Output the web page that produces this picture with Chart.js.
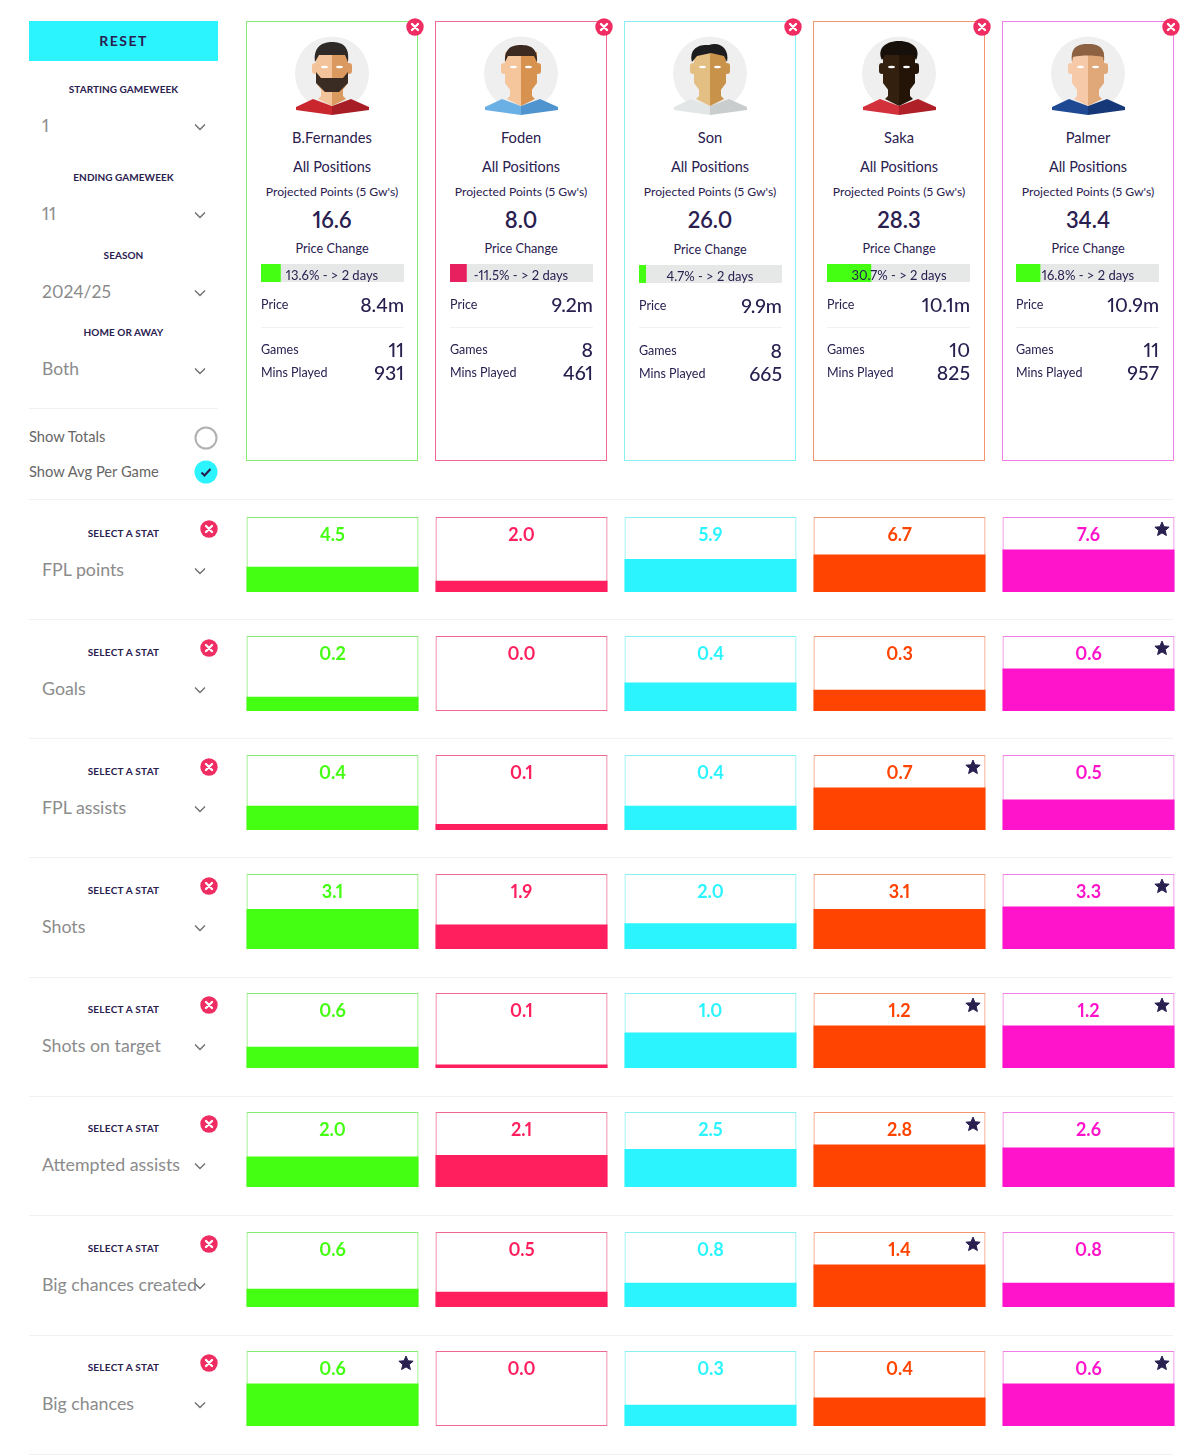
<!DOCTYPE html>
<html>
<head>
<meta charset="utf-8">
<title>Comparação de jogadores</title>
<script src="https://cdn.jsdelivr.net/npm/chart.js@4"></script>
<style>
    html, body { margin: 0; padding: 0; background: #fff; }
    body { position: relative; width: 1200px; height: 1456px; overflow: hidden; font-family: Lato, sans-serif; color: #2a2050; font-variant-numeric: proportional-nums; }
    .abs { position: absolute; white-space: nowrap; line-height: 1; }
    canvas { position: absolute; }
    svg { position: absolute; overflow: visible; }
</style>
</head>
<body>
<script>
// Dados dos jogadores
const jogadores = ['B.Fernandes', 'Foden', 'Son', 'Saka', 'Palmer'];
const pontosProjetados = ['16.6', '8.0', '26.0', '28.3', '34.4'];
const variacaoPreco = [13.6, -11.5, 4.7, 30.7, 16.8];
const precos = ['8.4m', '9.2m', '9.9m', '10.1m', '10.9m'];
const jogos = [11, 8, 8, 10, 11];
const minutos = [931, 461, 665, 825, 957];

// Estatísticas por jogo
const nomesEstatisticas = ['FPL points', 'Goals', 'FPL assists', 'Shots', 'Shots on target', 'Attempted assists', 'Big chances created', 'Big chances'];
const fplPoints = [4.5, 2.0, 5.9, 6.7, 7.6];
const goals = [0.2, 0.0, 0.4, 0.3, 0.6];
const fplAssists = [0.4, 0.1, 0.4, 0.7, 0.5];
const shots = [3.1, 1.9, 2.0, 3.1, 3.3];
const shotsOnTarget = [0.6, 0.1, 1.0, 1.2, 1.2];
const attemptedAssists = [2.0, 2.1, 2.5, 2.8, 2.6];
const bigChancesCreated = [0.6, 0.5, 0.8, 1.4, 0.8];
const bigChances = [0.6, 0.0, 0.3, 0.4, 0.6];
const linhas = [fplPoints, goals, fplAssists, shots, shotsOnTarget, attemptedAssists, bigChancesCreated, bigChances];

// Filtros da barra lateral
const filtros = [['STARTING GAMEWEEK', '1', 89, 125.5], ['ENDING GAMEWEEK', '11', 177, 213.5], ['SEASON', '2024/25', 255, 291.5], ['HOME OR AWAY', 'Both', 332, 369]];

// Cores
const coresBarra = ['#44ff12', '#ff1f5e', '#2bf4ff', '#ff4300', '#ff14cc'];
const coresBorda = ['#86ec72', '#f0688f', '#86f0f5', '#f29670', '#f07fe6'];
const escuro = '#2a2050';
const cinza = '#8b8b8b';

// Posições do layout
const colunaX = [246, 435, 624, 813, 1002];
const linhaY = [517, 636, 755, 874, 993, 1112, 1232, 1351];
const divisoresY = [499, 619, 738, 857, 977, 1096, 1215, 1335, 1454];

Chart.defaults.animation = false;
Chart.defaults.responsive = false;

// Função para escrever um texto; alinhamento: c (centro), l (esquerda), r (direita)
function texto(str, x, y, tamanho, opcoes = {}) {
    const el = document.createElement('div');
    el.className = 'abs';
    el.textContent = str;
    el.style.fontSize = tamanho + 'px';
    el.style.top = y + 'px';
    el.style.color = opcoes.cor || escuro;
    el.style.fontWeight = opcoes.peso || 400;
    if (opcoes.espaco) el.style.letterSpacing = opcoes.espaco + 'px';
    const alinha = opcoes.alinha || 'c';
    if (alinha === 'r') {
        el.style.right = (1200 - x) + 'px';
        el.style.transform = 'translateY(-50%)';
    } else {
        el.style.left = x + 'px';
        el.style.transform = alinha === 'c' ? 'translate(-50%, -50%)' : 'translateY(-50%)';
    }
    document.body.appendChild(el);
}

function caixa(x, y, w, h, css) {
    const el = document.createElement('div');
    el.className = 'abs';
    el.style.cssText += `left:${x}px;top:${y}px;width:${w}px;height:${h}px;box-sizing:border-box;${css}`;
    document.body.appendChild(el);
}

function svg(x, y, w, h, conteudo) {
    const wrap = document.createElement('div');
    wrap.innerHTML = `<svg style="left:${x}px;top:${y}px" width="${w}" height="${h}" viewBox="0 0 ${w} ${h}">${conteudo}</svg>`;
    document.body.appendChild(wrap.firstChild);
}

function seta(x, y) {
    svg(x - 6, y - 4, 12, 8, `<path d="M1 1.5 L6 6.5 L11 1.5" fill="none" stroke="#6f6f6f" stroke-width="1.4"/>`);
}

function botaoFechar(cx, cy) {
    svg(cx - 9, cy - 9, 18, 18, `<circle cx="9" cy="9" r="8.7" fill="#ef2d62"/><path d="M6 6 L12 12 M12 6 L6 12" stroke="#fff" stroke-width="2.4" stroke-linecap="round"/>`);
}

// Avatares simplificados
const avatares = [
    { pele: '#f3c49b', sombra: '#d9995f', cabelo: '#2f2a28', camisa: '#c9262e', camisa2: '#a81e26',
      topo: 'M20 26 C18 10 28 6 37 6 C47 6 55 10 53 26 L50 19 L24 19 Z',
      barba: 'M21 36 L26 42 L48 42 L53 36 L53 47 L44 56 L30 56 L21 47 Z' },
    { pele: '#f5c59c', sombra: '#d8924f', cabelo: '#3c2a20', camisa: '#6ab0e4', camisa2: '#4f94cf',
      topo: 'M21 26 C20 12 28 9 37 9 C46 9 54 12 53 26 L50 20 L24 20 Z' },
    { pele: '#e4bf83', sombra: '#c9924a', cabelo: '#1d1d1f', camisa: '#e3e6e6', camisa2: '#c9cdcd',
      topo: 'M19 26 C16 14 24 8 36 9 C46 5 57 12 54 26 L51 20 L38 17 L24 20 Z' },
    { pele: '#33200f', sombra: '#231407', cabelo: '#17100a', camisa: '#d2303a', camisa2: '#ae1f28',
      topo: 'M20 24 C15 14 22 5 37 5 C52 5 59 14 54 24 L51 19 L23 19 Z' },
    { pele: '#f6c9a8', sombra: '#e0a878', cabelo: '#8c6242', camisa: '#1f4a93', camisa2: '#163878',
      topo: 'M21 26 C19 10 28 8 37 8 C46 8 55 10 53 26 L52 21 C44 19 30 19 22 21 Z' }
];

function desenharAvatar(i, x, y) {
    const a = avatares[i];
    svg(x, y, 75, 82, `
        <circle cx="37" cy="37.5" r="37" fill="#efefef"/>
        <path d="M1 71 L18 63 L37 70 L37 79 L1 74 Z" fill="${a.camisa}"/>
        <path d="M74 71 L56 63 L37 70 L37 79 L74 74 Z" fill="${a.camisa2}"/>
        <path d="M26 40 L37 40 L37 70 L23 63 L26 60 Z" fill="${a.pele}"/>
        <path d="M48 40 L37 40 L37 70 L51 63 L48 60 Z" fill="${a.sombra}"/>
        <rect x="17" y="27" width="6" height="11" rx="3" fill="${a.pele}"/>
        <rect x="51" y="27" width="6" height="11" rx="3" fill="${a.sombra}"/>
        <path d="M21 16 L37 16 L37 59 L30 59 L21 47 Z" fill="${a.pele}"/>
        <path d="M53 16 L37 16 L37 59 L44 59 L53 47 Z" fill="${a.sombra}"/>
        ${a.barba ? `<path d="${a.barba}" fill="#3a2c22"/>` : ''}
        <path d="${a.topo}" fill="${a.cabelo}"/>
        <ellipse cx="29.5" cy="31" rx="3.4" ry="1.2" fill="#fff"/>
        <ellipse cx="44.5" cy="31" rx="3.4" ry="1.2" fill="#fff"/>`);
}

// Plugin: valor em cima de cada célula e estrela no melhor valor
const pluginValores = {
    id: 'valores',
    afterDatasetsDraw(chart) {
        const { ctx, scales } = chart;
        const valores = chart.data.datasets[0].data;
        const maior = Math.max(...valores);
        chart.getDatasetMeta(1).data.forEach((barra, i) => {
            ctx.save();
            ctx.font = '700 18px Lato';
            ctx.fillStyle = coresBarra[i];
            ctx.textAlign = 'center';
            ctx.textBaseline = 'middle';
            ctx.fillText(valores[i].toFixed(1), barra.x, scales.y.top + 18);
            if (valores[i] === maior) {
                desenharEstrela(ctx, barra.x + barra.width / 2 - 12.5, scales.y.top + 12.5, 7.5);
            }
            ctx.restore();
        });
    }
};

function desenharEstrela(ctx, cx, cy, r) {
    ctx.beginPath();
    for (let p = 0; p < 10; p++) {
        const raio = p % 2 === 0 ? r : r * 0.45;
        const ang = -Math.PI / 2 + p * Math.PI / 5;
        ctx.lineTo(cx + raio * Math.cos(ang), cy + raio * Math.sin(ang));
    }
    ctx.closePath();
    ctx.fillStyle = escuro;
    ctx.strokeStyle = escuro;
    ctx.lineWidth = 1;
    ctx.lineJoin = 'round';
    ctx.fill();
    ctx.stroke();
}

// Gráfico de uma linha de estatística
function criarGraficoLinha(valores, y) {
    const canvas = document.createElement('canvas');
    canvas.width = 945;
    canvas.height = 75;
    canvas.style.left = '238px';
    canvas.style.top = y + 'px';
    document.body.appendChild(canvas);
    // a barra mais alta ocupa 42px de 74px
    const topo = Math.max(...valores) * 74 / 42;
    new Chart(canvas, {
        type: 'bar',
        data: {
            labels: jogadores,
            datasets: [
                { data: valores, backgroundColor: coresBarra, grouped: false, categoryPercentage: 1, barPercentage: 172 / 189 },
                { data: valores.map(() => topo), backgroundColor: 'rgba(0,0,0,0)', borderColor: coresBorda, borderWidth: 1, borderSkipped: false, grouped: false, categoryPercentage: 1, barPercentage: 172 / 189 }
            ]
        },
        options: {
            layout: { padding: 0 },
            plugins: { legend: { display: false }, tooltip: { enabled: false } },
            scales: {
                x: { display: false },
                y: { display: false, min: 0, max: topo }
            }
        },
        plugins: [pluginValores]
    });
}

// Barra de variação de preço de cada cartão
function criarGraficoPreco(valor, x, y) {
    const canvas = document.createElement('canvas');
    canvas.width = 143;
    canvas.height = 18;
    canvas.style.left = x + 'px';
    canvas.style.top = y + 'px';
    document.body.appendChild(canvas);
    new Chart(canvas, {
        type: 'bar',
        data: {
            labels: ['Price Change'],
            datasets: [
                { data: [Math.abs(valor)], backgroundColor: valor < 0 ? '#e8205f' : '#44ff12', grouped: false, categoryPercentage: 1, barPercentage: 1 },
                { data: [100], backgroundColor: '#e6e8e8', grouped: false, categoryPercentage: 1, barPercentage: 1 }
            ]
        },
        options: {
            indexAxis: 'y',
            layout: { padding: 0 },
            plugins: { legend: { display: false }, tooltip: { enabled: false } },
            scales: {
                x: { display: false, min: 0, max: 100 },
                y: { display: false }
            }
        }
    });
}

// Barra lateral
function montarLateral() {
    caixa(29, 21, 189, 40, 'background:#2bf4ff;');
    texto('RESET', 123.5, 40.5, 14, { peso: 700, espaco: 1.5 });
    filtros.forEach(([rotulo, valor, yRotulo, yValor]) => {
        texto(rotulo, 123.5, yRotulo, 10, { peso: 700, espaco: 0.05 });
        texto(valor, 42, yValor, 17.5, { alinha: 'l', cor: cinza });
        seta(200, yValor + 1.5);
    });
    caixa(29, 408, 189, 1, 'background:#f0f0f0;');
    texto('Show Totals', 29, 435.5, 14.7, { alinha: 'l', cor: '#666' });
    texto('Show Avg Per Game', 29, 470.5, 14.7, { alinha: 'l', cor: '#666' });
    svg(194, 426, 24, 24, `<circle cx="12" cy="12" r="10.5" fill="none" stroke="#b0b0b0" stroke-width="2"/>`);
    svg(194, 460, 24, 24, `<circle cx="12" cy="12" r="11.5" fill="#2bf4ff"/><path d="M7.5 12.5 L10.5 15.5 L16.5 9" fill="none" stroke="${escuro}" stroke-width="2.2"/>`);
}

// Cartões dos jogadores
function montarCartoes() {
    jogadores.forEach((nome, i) => {
        const x = colunaX[i];
        const centro = x + 86;
        // o cartão do Son fica 1px mais baixo
        const d = i === 2 ? 1 : 0;
        // os dois últimos cartões têm o conteúdo 1px mais à esquerda
        const esq = x + (i >= 3 ? 14 : 15);
        const dir = esq + 143;
        caixa(x, 21, 172, 440, `border:1px solid ${coresBorda[i]};`);
        botaoFechar(x + 169, 27);
        desenharAvatar(i, x + 48.5, 36);
        texto(nome, centro, 136.5, 14.7);
        texto('All Positions', centro, 166.5, 14.5);
        texto("Projected Points (5 Gw's)", centro, 191.5, 12.2);
        texto(pontosProjetados[i], centro, 219.5, 22, { peso: 600 });
        texto('Price Change', centro, 247.5 + d, 12.7);
        criarGraficoPreco(variacaoPreco[i], esq, 264 + d);
        texto(`${variacaoPreco[i]}% - > 2 days`, centro, 275 + d, 13);
        texto('Price', esq, 304.5 + d, 12.5, { alinha: 'l' });
        texto(precos[i], dir, 305 + d, 19.5, { alinha: 'r', peso: 500 });
        caixa(esq, 327, 143, 1, 'background:#f2f2f2;');
        texto('Games', esq, 349.5 + d, 12.5, { alinha: 'l' });
        texto(jogos[i], dir, 349.5 + d, 19.5, { alinha: 'r', peso: 500 });
        texto('Mins Played', esq, 372.5 + d, 12.5, { alinha: 'l' });
        texto(minutos[i], dir, 372.5 + d, 19.5, { alinha: 'r', peso: 500 });
    });
}

// Linhas de estatísticas
function montarLinhas() {
    divisoresY.forEach(y => caixa(29, y, 1144, 1, 'background:#f2f2f2;'));
    linhas.forEach((valores, i) => {
        const y = linhaY[i];
        texto('SELECT A STAT', 123.5, y + 15.5, 10, { peso: 700, espaco: 0.25 });
        botaoFechar(209, y + 12);
        texto(nomesEstatisticas[i], 42, y + 52.5, 17.8, { alinha: 'l', cor: cinza });
        seta(200, y + 54);
        criarGraficoLinha(valores, y);
    });
}

montarLateral();
montarCartoes();
montarLinhas();
</script>
</body>
</html>
